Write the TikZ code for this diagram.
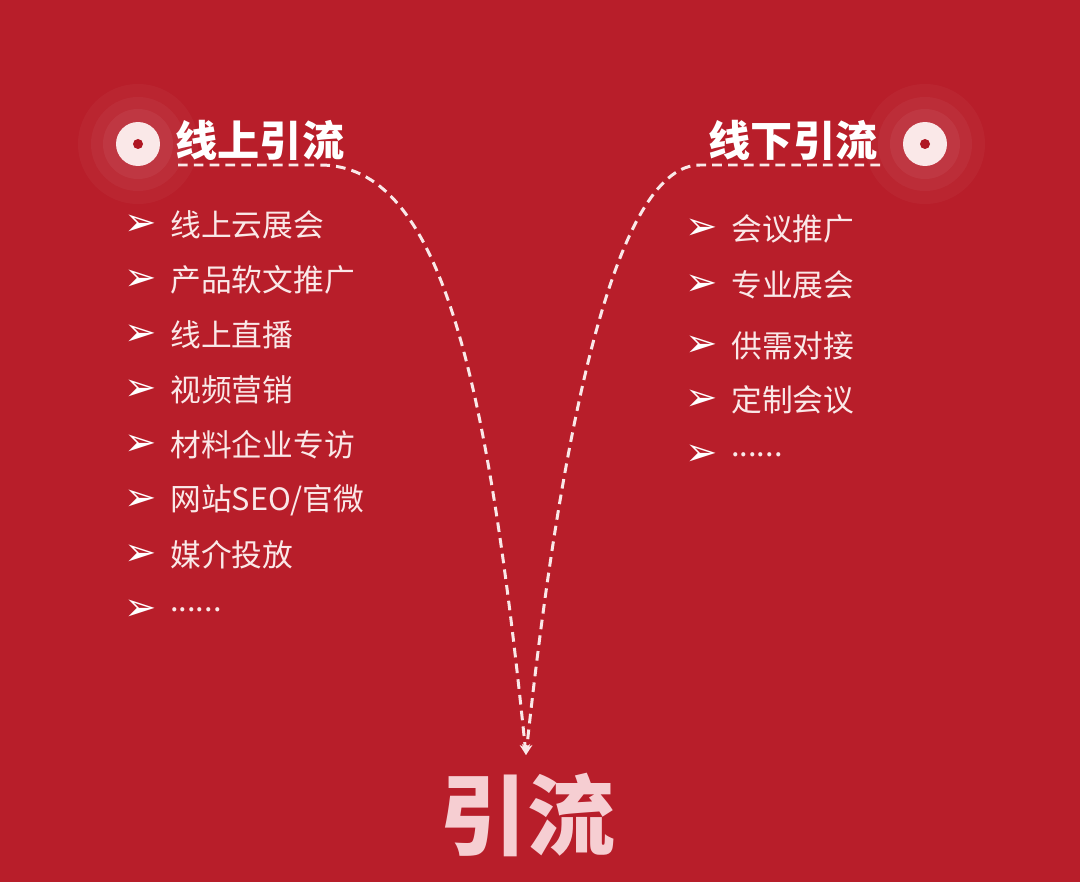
\documentclass[tikz,border=0pt]{standalone}
\usepackage{fontspec}
\setmainfont{Noto Sans CJK SC}
\newfontfamily\arrowfont{DejaVu Sans}
\usetikzlibrary{arrows.meta}
\definecolor{bgred}{RGB}{184,30,42}
\definecolor{palepink}{RGB}{250,232,232}
\definecolor{bigpink}{RGB}{246,206,210}
\definecolor{dotred}{RGB}{175,22,34}
\begin{document}
\begin{tikzpicture}[x=0.02cm, y=-0.02cm,
        title/.style={text=white, inner sep=0pt, font=\fontsize{24pt}{24pt}\selectfont\bfseries},
        item/.style={anchor=west, text=palepink, inner sep=0pt, font=\fontsize{17.5pt}{18pt}\selectfont},
        bullet/.style={text=white, inner sep=0pt, font=\arrowfont\fontsize{22pt}{22pt}\selectfont},
        icon/.style={circle, fill=palepink, inner sep=0pt, minimum size=0.88cm},
        flow/.style={palepink, line width=1.7pt, dash pattern=on 5.5pt off 3.5pt, -{Stealth[length=6pt, width=6pt]}}]
        % Background
        \fill[bgred] (0,0) rectangle (1080,882);
        \useasboundingbox (0,0) rectangle (1080,882);

        % Glow round the two icons
        \fill[white, opacity=0.03] (138,144) circle (60);
        \fill[white, opacity=0.04] (138,144) circle (47);
        \fill[white, opacity=0.05] (138,144) circle (35);
        \fill[white, opacity=0.03] (925,144) circle (60);
        \fill[white, opacity=0.04] (925,144) circle (47);
        \fill[white, opacity=0.05] (925,144) circle (35);

        % Icons
        \node[icon] (lefticon) at (138,144) {};
        \fill[dotred] (lefticon) circle (5);
        \node[icon] (righticon) at (925,144) {};
        \fill[dotred] (righticon) circle (5);

        % Titles
        \node[title] (onlinetitle) at (260,140) {线上引流};
        \node[title] (offlinetitle) at (793,140) {线下引流};

        % Dashed paths into the centre
        \coordinate (onlinestart) at (178,165);
        \coordinate (offlinestart) at (880,165);
        \coordinate (target) at (526,755);
        \draw[flow] (onlinestart) -- (320,165) .. controls (440,165) and (487,372) .. (target);
        \draw[flow] (offlinestart) -- (700,165) .. controls (620,165) and (564,402) .. (target);

        % Online list
        \node[bullet] (ob1) at (141,225) {➢};
        \node[item] (o1) at (170,225) {线上云展会};
        \node[bullet] (ob2) at (141,280) {➢};
        \node[item] (o2) at (170,280) {产品软文推广};
        \node[bullet] (ob3) at (141,335) {➢};
        \node[item] (o3) at (170,335) {线上直播};
        \node[bullet] (ob4) at (141,390) {➢};
        \node[item] (o4) at (170,390) {视频营销};
        \node[bullet] (ob5) at (141,445) {➢};
        \node[item] (o5) at (170,445) {材料企业专访};
        \node[bullet] (ob6) at (141,500) {➢};
        \node[item] (o6) at (170,500) {网站SEO/官微};
        \node[bullet] (ob7) at (141,555) {➢};
        \node[item] (o7) at (170,555) {媒介投放};
        \node[bullet] (ob8) at (141,610) {➢};
        \node[item] (o8) at (170,610) {......};

        % Offline list
        \node[bullet] (fb1) at (702,229) {➢};
        \node[item] (f1) at (731,229) {会议推广};
        \node[bullet] (fb2) at (702,285) {➢};
        \node[item] (f2) at (731,285) {专业展会};
        \node[bullet] (fb3) at (702,346) {➢};
        \node[item] (f3) at (731,346) {供需对接};
        \node[bullet] (fb4) at (702,400) {➢};
        \node[item] (f4) at (731,400) {定制会议};
        \node[bullet] (fb5) at (702,455) {➢};
        \node[item] (f5) at (731,455) {......};

        % Centre word
        \node[text=bigpink, inner sep=0pt, font=\fontsize{50pt}{50pt}\selectfont\bfseries] (centre) at (527,815) {引流};
    \end{tikzpicture}
\end{document}
